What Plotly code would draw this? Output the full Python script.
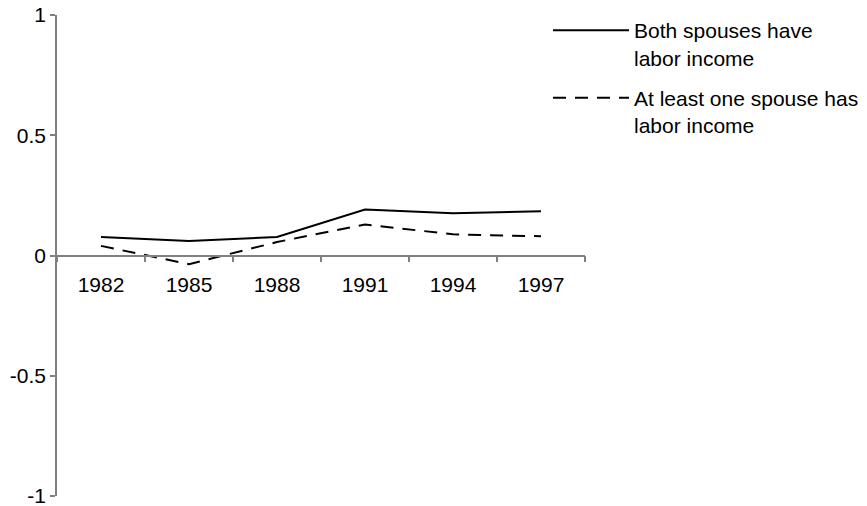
import plotly.graph_objects as go

years = ["1982", "1985", "1988", "1991", "1994", "1997"]
both_spouses = [0.077, 0.060, 0.077, 0.191, 0.176, 0.184]
at_least_one = [0.040, -0.036, 0.056, 0.129, 0.088, 0.080]
y_ticks = [-1, -0.5, 0, 0.5, 1]
y_tick_labels = ["-1", "-0.5", "0", "0.5", "1"]

fig = go.Figure()
fig.add_trace(go.Scatter(
    x=years, y=both_spouses, mode="lines",
    name="Both spouses have<br>labor income",
    line=dict(color="black", width=2),
    legendgroup="a",
))
fig.add_trace(go.Scatter(
    x=years, y=at_least_one, mode="lines",
    name="At least one spouse has<br>labor income",
    line=dict(color="black", width=2, dash="13px,9px"),
    legendgroup="b",
))

axis_col = "#808080"
fig.update_layout(
    width=867, height=506,
    margin=dict(l=57, r=282, t=15, b=10, autoexpand=False),
    paper_bgcolor="white", plot_bgcolor="white",
    font=dict(family="Liberation Sans, Arial, sans-serif", size=21, color="black"),
    showlegend=True,
    legend=dict(
        x=548 / 867, xref="container", xanchor="left",
        y=1 - 10 / 506, yref="container", yanchor="top",
        font=dict(size=21),
        valign="top",
        itemwidth=76,
        tracegroupgap=10,
        traceorder="grouped",
        bgcolor="rgba(0,0,0,0)",
    ),
    xaxis=dict(
        type="category", range=[-0.5, 5.5],
        anchor="free", position=0.5,
        showline=True, linecolor=axis_col, linewidth=1.5,
        ticks="outside", ticklen=6, tickcolor=axis_col, tickwidth=1.5,
        tickson="boundaries",
        showgrid=False, zeroline=False,
        ticklabelstandoff=11, automargin=False,
    ),
    yaxis=dict(
        range=[-1, 1], tickvals=y_ticks, ticktext=y_tick_labels,
        showline=True, linecolor=axis_col, linewidth=1.5,
        ticks="outside", ticklen=5, tickcolor=axis_col, tickwidth=1.5,
        showgrid=False, zeroline=False, automargin=False,
        ticklabeloverflow="allow",
    ),
)

fig.write_html("out.html", config={"displayModeBar": False},
               post_script="document.body.style.margin='0';")
